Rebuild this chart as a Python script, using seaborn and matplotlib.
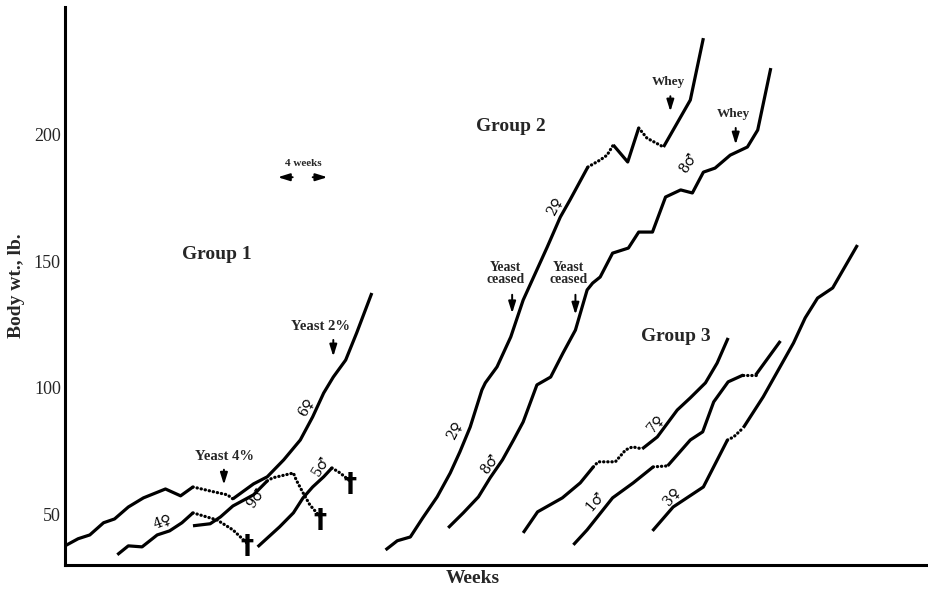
import pandas as pd
import matplotlib.pyplot as plt
import seaborn as sns

# Body weight (lb) against weeks.
# x is in weeks from the left axis (the "4 weeks" bar sets the scale);
# *_dot marks each segment between two points: 1 = drawn dotted, 0 = solid.

# Group 1
pig6_wk = [0, 0.95, 1.8, 2.8, 3.6, 4.6, 5.7, 7.3, 8.4, 9.3, 10.8, 11.8, 12.2,
           13.7, 14.7, 15.9, 17.1, 18.0, 18.8, 19.5, 20.4, 21.2, 22.3]
pig6_lb = [37.8, 40.6, 42.1, 46.9, 48.4, 53.1, 56.7, 60.2, 57.5, 61.0, 59.1, 57.9, 56.3,
           62.2, 65.0, 71.7, 79.5, 88.6, 98.0, 104.3, 111.0, 121.7, 137.4]
pig6_dot = [0] * 9 + [1, 1, 1] + [0] * 10

pig4_wk = [3.8, 4.6, 5.6, 6.7, 7.6, 8.5, 9.3, 11.05, 12.2, 13.2]
pig4_lb = [34.3, 37.8, 37.4, 42.1, 43.7, 46.9, 50.8, 48.0, 44.1, 39.0]
pig4_dot = [0, 0, 0, 0, 0, 0, 1, 1, 1]

pig9_wk = [9.3, 10.55, 11.3, 12.2, 13.7, 14.7, 15.1, 16.6, 16.8, 17.3, 17.8, 18.55]
pig9_lb = [45.7, 46.5, 49.2, 53.5, 57.9, 63.4, 64.6, 66.5, 63.8, 58.7, 53.9, 49.2]
pig9_dot = [0, 0, 0, 0, 0, 1, 1, 1, 1, 1, 1]

pig5_wk = [14.0, 15.6, 16.6, 17.3, 18.0, 18.8, 19.4, 20.0, 20.7]
pig5_lb = [37.4, 45.3, 50.8, 56.7, 61.0, 65.0, 68.5, 66.5, 63.4]
pig5_dot = [0, 0, 0, 0, 0, 0, 1, 1]

# Group 2
pig2_wk = [23.3, 24.15, 25.1, 26.0, 27.05, 28.0, 28.7, 29.45, 30.3, 30.55, 31.4, 32.4, 33.3,
           35.05, 36.0, 36.7, 38.0, 38.9, 39.4, 39.85, 40.9, 41.7, 42.3, 43.5, 45.45, 46.4]
pig2_lb = [36.2, 39.8, 41.3, 48.8, 57.1, 66.5, 74.8, 84.6, 99.2, 102.0, 108.3, 120.1, 134.6,
           155.5, 167.3, 174.0, 187.0, 189.8, 191.7, 195.7, 189.0, 202.4, 198.4, 194.9, 213.4, 237.8]
pig2_dot = [0] * 16 + [1, 1, 1] + [0, 0] + [1, 1] + [0, 0]

pig8_wk = [27.85, 28.95, 30.05, 30.9, 31.8, 32.6, 33.3, 34.3, 35.3, 36.2, 37.1, 37.95, 38.35,
           38.9, 39.8, 40.95, 41.7, 42.7, 43.65, 44.75, 45.6, 46.4, 47.25, 48.35, 49.6, 50.35, 51.3]
pig8_lb = [44.9, 50.8, 57.1, 64.6, 71.7, 79.5, 86.6, 101.2, 104.3, 113.8, 122.8, 138.6, 141.3,
           143.7, 153.1, 155.1, 161.4, 161.4, 175.2, 178.0, 176.8, 185.0, 186.6, 191.7, 194.9, 201.6, 226.0]
pig8_dot = [0] * 26

# Group 3
pig7_wk = [33.3, 34.35, 36.15, 37.45, 38.4, 38.75, 40.0, 40.75, 41.25, 41.95, 43.05, 44.5,
           45.45, 46.55, 47.4, 48.2]
pig7_lb = [42.9, 51.2, 56.7, 62.6, 68.9, 70.9, 70.9, 75.6, 76.8, 76.0, 80.7, 91.3,
           96.1, 102.0, 109.8, 119.7]
pig7_dot = [0, 0, 0, 0, 1, 1, 1, 1, 1, 0, 0, 0, 0, 0, 0]

pig1_wk = [36.95, 37.95, 39.8, 41.3, 42.75, 43.8, 45.45, 46.35, 47.15, 48.2, 49.3, 50.2, 52.0]
pig1_lb = [38.2, 44.1, 56.7, 62.6, 68.9, 69.3, 79.5, 82.7, 94.5, 102.4, 105.1, 105.1, 118.5]
pig1_dot = [0, 0, 0, 0, 1, 0, 0, 0, 0, 0, 1, 0]

pig3_wk = [42.7, 44.2, 46.4, 48.15, 48.6, 49.3, 50.75, 52.95, 53.8, 54.7, 55.8, 57.6]
pig3_lb = [43.7, 53.1, 61.0, 79.5, 80.7, 84.3, 96.5, 117.7, 127.6, 135.4, 139.4, 156.3]
pig3_dot = [0, 0, 0, 1, 1, 0, 0, 0, 0, 0, 0]

curves = {
    '6♀': (pig6_wk, pig6_lb, pig6_dot),
    '4♀': (pig4_wk, pig4_lb, pig4_dot),
    '9♂': (pig9_wk, pig9_lb, pig9_dot),
    '5♂': (pig5_wk, pig5_lb, pig5_dot),
    '2♀': (pig2_wk, pig2_lb, pig2_dot),
    '8♂': (pig8_wk, pig8_lb, pig8_dot),
    '7♀': (pig7_wk, pig7_lb, pig7_dot),
    '1♂': (pig1_wk, pig1_lb, pig1_dot),
    '3♀': (pig3_wk, pig3_lb, pig3_dot),
}
died = ['4♀', '9♂', '5♂']  # curves that end with a cross

# Curve labels written along the lines
label_text = ['6♀', '4♀', '9♂', '5♂', '2♀', '2♀', '8♂', '8♂', '7♀', '1♂', '3♀']
label_wk = [17.5, 7.1, 13.9, 18.6, 28.3, 35.6, 30.9, 45.3, 42.9, 38.5, 44.1]
label_lb = [92.5, 47.5, 56.5, 69.5, 83.5, 171.5, 70.0, 188.5, 86.0, 55.5, 57.5]
label_rot = [60, 20, 55, 58, 63, 62, 55, 58, 50, 50, 50]

# Split each curve into solid / dotted runs -> long-form table
rows = []
seg = 0
for name, (wk, lb, dot) in curves.items():
    start = 0
    for i in range(1, len(dot) + 1):
        if i == len(dot) or dot[i] != dot[start]:
            kind = 'dotted' if dot[start] else 'solid'
            for j in range(start, i + 1):
                rows.append({'pig': name, 'seg': seg, 'kind': kind, 'week': wk[j], 'lb': lb[j]})
            seg += 1
            start = i
df = pd.DataFrame(rows)

sns.set_style("white")
plt.rcParams['font.family'] = ['Liberation Serif', 'DejaVu Serif']

fig = plt.figure(figsize=(9.29, 5.94), dpi=100)
ax = fig.add_axes([0.070, 0.049, 0.930, 0.939])

sns.lineplot(data=df, x='week', y='lb', units='seg', estimator=None, sort=False,
             style='kind', dashes={'solid': '', 'dotted': (0.1, 1.2)},
             color='black', linewidth=2.3, legend=False, ax=ax,
             dash_capstyle='round', solid_capstyle='butt')

# crosses where pigs died
for name in died:
    wk, lb, _ = curves[name]
    ax.text(wk[-1], lb[-1] - 1.5, '†', ha='center', va='center', fontsize=19,
            fontweight='bold', family=['DejaVu Sans'], color='black')

for t, x, y, r in zip(label_text, label_wk, label_lb, label_rot):
    ax.text(x, y, t, rotation=r, ha='center', va='center', fontsize=10,
            family=['DejaVu Serif'], color='black')

# Group titles
ax.text(11.0, 152.4, 'Group 1', ha='center', va='center', fontsize=14, fontweight='bold')
ax.text(32.4, 202.8, 'Group 2', ha='center', va='center', fontsize=14, fontweight='bold')
ax.text(44.4, 120.1, 'Group 3', ha='center', va='center', fontsize=14, fontweight='bold')

# Treatment arrows
arrow = dict(arrowstyle='-|>,head_width=0.22,head_length=0.7', color='black', lw=1.4)
notes = [
    ('Yeast 4%', 11.6, 70.3, 11.55, 68.9, 60.8, 10.5),
    ('Yeast 2%', 18.6, 121.7, 19.5, 120.0, 111.3, 10.5),
    ('Yeast\nceased', 32.0, 140.0, 32.5, 137.8, 128.3, 9.8),
    ('Yeast\nceased', 36.6, 140.0, 37.1, 137.8, 127.8, 9.8),
    ('Whey', 43.85, 218.3, 44.0, 216.0, 207.8, 9.5),
    ('Whey', 48.6, 205.5, 48.75, 203.5, 194.8, 9.5),
]
for txt, tx, ty, ax_x, y0, y1, fs in notes:
    ax.text(tx, ty, txt, ha='center', va='bottom', fontsize=fs, fontweight='bold',
            linespacing=0.9)
    ax.annotate('', xy=(ax_x, y1), xytext=(ax_x, y0), arrowprops=arrow)

# "4 weeks" scale bar
ax.text(17.3, 186.5, '4 weeks', ha='center', va='bottom', fontsize=8, fontweight='bold')
ax.annotate('', xy=(15.27, 183), xytext=(16.75, 183), arrowprops=arrow)
ax.annotate('', xy=(19.27, 183), xytext=(17.8, 183), arrowprops=arrow)

ax.set_xlim(0, 62.8)
ax.set_ylim(30.3, 250)
ax.set_xticks([])
ax.set_yticks([50, 100, 150, 200])
ax.tick_params(axis='y', direction='in', length=9, width=2, pad=3, labelsize=13)
for s in ['top', 'right']:
    ax.spines[s].set_visible(False)
for s in ['left', 'bottom']:
    ax.spines[s].set_linewidth(2.2)
    ax.spines[s].set_color('black')

ax.set_ylabel('Body wt., lb.', fontsize=14, fontweight='bold')
ax.yaxis.set_label_coords(-0.046, 0.5)
ax.set_xlabel('Weeks', fontsize=14, fontweight='bold')
ax.xaxis.set_label_coords(0.472, -0.01)

plt.savefig('out.png', dpi=100)
